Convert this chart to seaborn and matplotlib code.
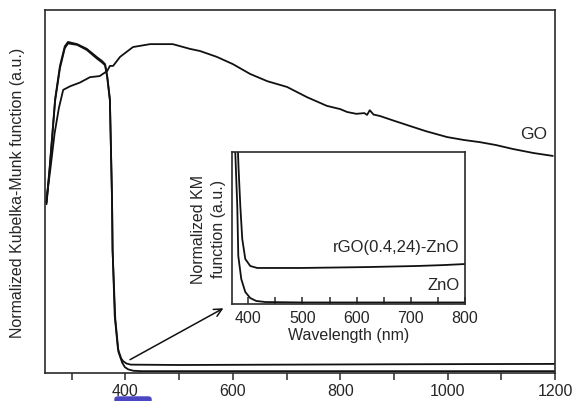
import numpy as np
import pandas as pd
import matplotlib
matplotlib.use("Agg")
import matplotlib.pyplot as plt
from matplotlib.patches import FancyBboxPatch
import seaborn as sns

# ---------------- data ----------------
# Main panel: wavelength (nm) and normalized KM values
go_x = [252, 260, 268, 276, 284, 297, 315, 334, 352, 366, 371, 377, 390, 414, 446,
        488, 520, 539, 570, 600, 632, 664, 701, 738, 775, 800, 813, 830, 845, 850,
        855, 862, 874, 900, 935, 960, 999, 1030, 1060, 1090, 1122, 1160, 1196]
go_y = [0.47, 0.56, 0.66, 0.73, 0.78, 0.79, 0.80, 0.815, 0.818, 0.832, 0.846, 0.846,
        0.871, 0.898, 0.906, 0.906, 0.893, 0.887, 0.871, 0.851, 0.824, 0.804, 0.788,
        0.760, 0.736, 0.727, 0.719, 0.714, 0.716, 0.711, 0.724, 0.712, 0.708, 0.695,
        0.678, 0.666, 0.650, 0.642, 0.636, 0.628, 0.617, 0.606, 0.598]

rgo_x = [253, 259, 269, 278, 287, 293, 310, 328, 347, 356, 362, 366, 371, 373, 375,
         376, 380, 386, 392, 396, 402, 410, 500, 700, 900, 1200]
rgo_y = [0.47, 0.57, 0.755, 0.846, 0.90, 0.912, 0.906, 0.893, 0.870, 0.860, 0.851,
         0.818, 0.755, 0.617, 0.479, 0.342, 0.157, 0.066, 0.040, 0.032, 0.026, 0.023,
         0.022, 0.023, 0.024, 0.025]

zno_x = [253, 259, 269, 278, 287, 293, 310, 328, 347, 356, 362, 366, 371, 373, 375,
         376, 381, 387, 394, 399, 405, 415, 430, 600, 900, 1200]
zno_y = [0.465, 0.565, 0.75, 0.84, 0.895, 0.908, 0.904, 0.890, 0.866, 0.856, 0.848,
         0.815, 0.750, 0.612, 0.474, 0.337, 0.150, 0.058, 0.028, 0.016, 0.010, 0.006,
         0.005, 0.005, 0.005, 0.005]

# Inset panel
in_rgo_x = [380.5, 382, 385.3, 388.9, 394.5, 403.7, 416.6, 496, 560, 619, 711, 760, 800]
in_rgo_y = [1.05, 0.90, 0.645, 0.428, 0.296, 0.250, 0.237, 0.237, 0.240, 0.243, 0.250,
            0.256, 0.263]
in_zno_x = [375, 376, 379.7, 381.6, 387.1, 394.5, 403.7, 414.7, 431.3, 500, 650, 800]
in_zno_y = [1.05, 1.0, 0.645, 0.316, 0.164, 0.079, 0.039, 0.020, 0.013, 0.010, 0.010, 0.010]

main_major = [400, 600, 800, 1000, 1200]
main_minor = [300, 500, 700, 900, 1100]
inset_major = [400, 500, 600, 700, 800]
inset_minor = [450, 550, 650, 750]

# ---------------- style ----------------
sns.set_theme(style="white")
plt.rcParams['font.family'] = ['Liberation Sans', 'DejaVu Sans']
plt.rcParams['axes.edgecolor'] = '#2a2a2a'
plt.rcParams['axes.linewidth'] = 1.2

fig = plt.figure(figsize=(5.76, 4.02), dpi=100)
ax = fig.add_axes([0.078, 0.0697, 0.8855, 0.9029])

lc = '#111111'
lw = 1.3
sns.lineplot(data=pd.DataFrame({'x': go_x, 'y': go_y}), x='x', y='y', ax=ax,
             color=lc, lw=lw, sort=False, estimator=None)
sns.lineplot(data=pd.DataFrame({'x': zno_x, 'y': zno_y}), x='x', y='y', ax=ax,
             color=lc, lw=lw, sort=False, estimator=None)
sns.lineplot(data=pd.DataFrame({'x': rgo_x, 'y': rgo_y}), x='x', y='y', ax=ax,
             color=lc, lw=lw, sort=False, estimator=None)

ax.set_xlim(250, 1200)
ax.set_ylim(0, 1)
ax.set_xticks(main_major)
ax.set_xticks(main_minor, minor=True)
ax.set_yticks([])
ax.tick_params(axis='x', which='both', direction='out', length=5, width=1.1,
               color='#2a2a2a', labelsize=11.5, pad=2, bottom=True)
ax.set_xlabel('')
ax.set_ylabel('Normalized Kubelka-Munk function (a.u.)', fontsize=11.5, labelpad=14)
ax.text(1160, 0.66, 'GO', fontsize=12.5, ha='center', va='center')

# arrow from the main-panel edge to the inset
ax.annotate('', xy=(587, 0.182), xytext=(404, 0.033),
            arrowprops=dict(arrowstyle='->', color=lc, lw=1.1, mutation_scale=14))

# ---------------- inset ----------------
ins = fig.add_axes([0.4028, 0.2413, 0.4045, 0.3781])
sns.lineplot(data=pd.DataFrame({'x': in_zno_x, 'y': in_zno_y}), x='x', y='y', ax=ins,
             color=lc, lw=lw, sort=False, estimator=None)
sns.lineplot(data=pd.DataFrame({'x': in_rgo_x, 'y': in_rgo_y}), x='x', y='y', ax=ins,
             color=lc, lw=lw, sort=False, estimator=None)
ins.set_xlim(370, 800)
ins.set_ylim(0, 1)
ins.set_xticks(inset_major)
ins.set_xticks(inset_minor, minor=True)
ins.set_yticks([])
ins.tick_params(axis='x', which='both', direction='in', length=5, width=1.1,
                color='#2a2a2a', labelsize=11.5, pad=4, bottom=True)
ins.set_xlabel('Wavelength (nm)', fontsize=11.5, labelpad=2)
ins.set_ylabel('Normalized KM\nfunction (a.u.)', fontsize=11.5, labelpad=4,
               linespacing=1.45)
ins.text(790, 0.38, 'rGO(0.4,24)-ZnO', fontsize=12, ha='right', va='center')
ins.text(790, 0.13, 'ZnO', fontsize=12, ha='right', va='center')

# blue mark below the 400 label
fig.patches.append(FancyBboxPatch((115 / 576, -0.01), 36 / 576, 0.02,
                                  boxstyle='round,pad=0,rounding_size=0.005',
                                  transform=fig.transFigure, color='#4a46c4',
                                  zorder=5))

fig.savefig('out.png', dpi=100)
